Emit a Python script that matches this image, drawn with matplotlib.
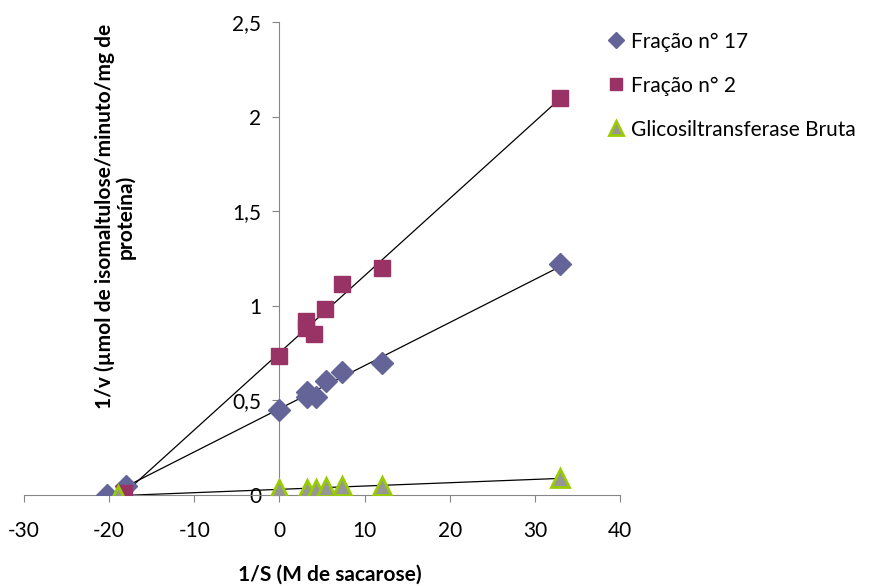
import matplotlib.pyplot as plt
import numpy as np

plt.rcParams['font.family'] = ['Lato', 'DejaVu Sans']
plt.rcParams['axes.unicode_minus'] = False

# 1/S (M de sacarose) and 1/v for each series
x_f17 = [-20.2, -18.0, 0.0, 3.3, 3.3, 4.3, 5.5, 7.4, 12.1, 33.0]
y_f17 = [0.0, 0.05, 0.45, 0.545, 0.52, 0.52, 0.60, 0.65, 0.70, 1.22]

x_f2 = [-18.2, 0.0, 3.1, 3.1, 4.1, 5.4, 7.3, 12.1, 33.0]
y_f2 = [0.01, 0.735, 0.88, 0.92, 0.85, 0.985, 1.115, 1.20, 2.10]

x_gtf = [-19.0, 0.0, 3.3, 4.3, 5.5, 7.4, 12.1, 33.0]
y_gtf = [0.0, 0.03, 0.03, 0.03, 0.04, 0.05, 0.05, 0.09]

labels = ['Fração n° 17', 'Fração n° 2', 'Glicosiltransferase Bruta']
x_ticks = [-30, -20, -10, 0, 10, 20, 30, 40]
y_ticks = [0, 0.5, 1, 1.5, 2, 2.5]
y_tick_labels = ['0', '0,5', '1', '1,5', '2', '2,5']

fig = plt.figure(figsize=(8.85, 5.86), dpi=100)
ax = fig.add_axes([0.0271, 0.1553, 0.6734, 0.8072])

# trendlines (linear least squares, drawn over the range of each series)
for xs, ys in [(x_f17, y_f17), (x_f2, y_f2), (x_gtf, y_gtf)]:
    xs = np.array(xs)
    m, b = np.polyfit(xs, ys, 1)
    xl = np.array([xs.min(), xs.max()])
    ax.plot(xl, m * xl + b, color='black', lw=0.9, zorder=2)

ax.plot(x_f17, y_f17, 'D', ms=11, color='#646499', mec='#646499', ls='none',
        label=labels[0], zorder=3)
ax.plot(x_f2, y_f2, 's', ms=12, color='#993366', mec='#993366', ls='none',
        label=labels[1], zorder=3)
ax.plot(x_gtf, y_gtf, '^', ms=13, color='#969696', mec='#99CC00', mew=2,
        ls='none', label=labels[2], zorder=4)

ax.set_xlim(-30, 40)
ax.set_ylim(0, 2.5)
ax.spines['left'].set_position(('data', 0))
ax.spines['top'].set_visible(False)
ax.spines['right'].set_visible(False)
for s in ['left', 'bottom']:
    ax.spines[s].set_color('#868686')
ax.set_xticks(x_ticks)
ax.set_yticks(y_ticks)
ax.set_yticklabels(y_tick_labels)
ax.tick_params(axis='both', labelsize=15, color='#868686', length=5)
ax.tick_params(axis='x', pad=14)
ax.tick_params(axis='y', pad=8)

fig.text(0.373, 0.019, '1/S (M de sacarose)', ha='center', va='center',
         fontsize=15, fontweight='bold')
fig.text(0.13, 0.63, '1/v (µmol de isomaltulose/minuto/mg de\nproteína)',
         rotation=90, ha='center', va='center', fontsize=15,
         fontweight='bold', multialignment='center', linespacing=1.0)

ax.legend(loc='upper left', bbox_to_anchor=(0.673, 0.96),
          bbox_transform=fig.transFigure, frameon=False, fontsize=15,
          markerscale=0.75, handletextpad=0.1, labelspacing=1.15,
          handlelength=1.2, borderaxespad=0)

fig.savefig('out.png', dpi=100)
